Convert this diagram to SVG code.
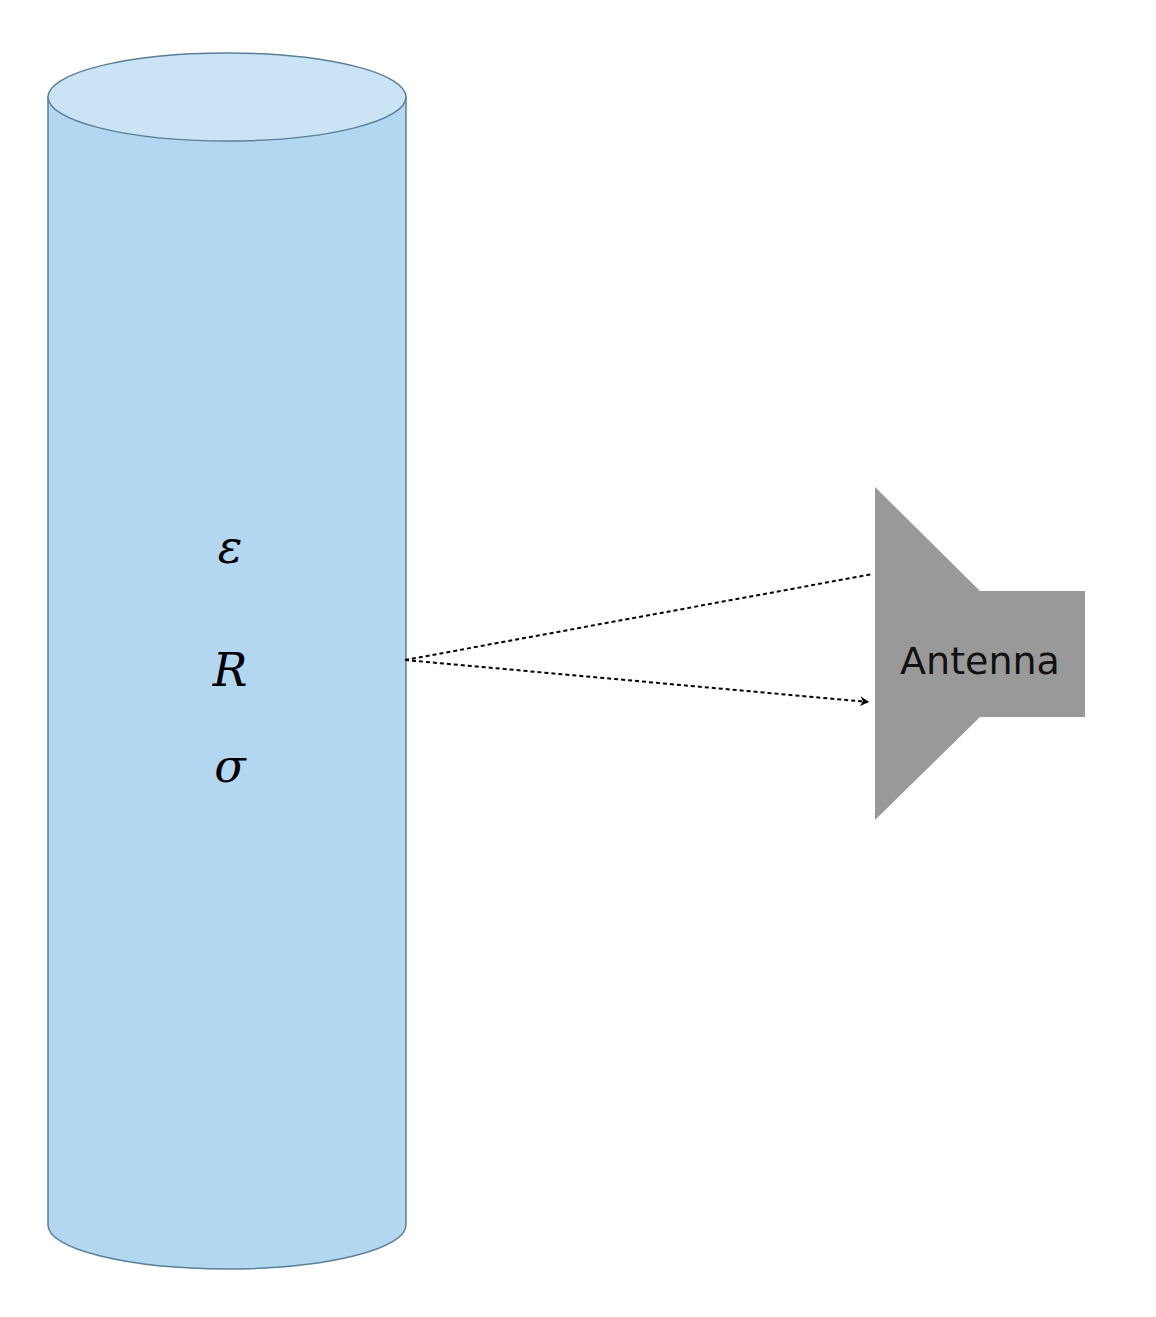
<svg xmlns="http://www.w3.org/2000/svg" width="1156" height="1317" viewBox="0 0 1156 1317">
<style>
.math{font-family:"DejaVu Serif","Liberation Serif",serif;font-style:italic;font-size:46px;fill:#000;text-anchor:middle}
.conn{stroke:#000;stroke-width:2;stroke-dasharray:4 3;fill:none}
</style>
<defs><marker id="ah" markerWidth="10" markerHeight="10" refX="8" refY="5" orient="auto" markerUnits="userSpaceOnUse"><path d="M0,0 L9,5 L0,10 L3,5 Z" fill="#000"/></marker></defs>
<rect width="1156" height="1317" fill="#fff"/>
<g id="cylinder">
<path d="M48,97 L48,1225 A179,44 0 0 0 406,1225 L406,97 Z" fill="#b3d7f0" stroke="#5b7f99" stroke-width="1.5"/>
<ellipse cx="227" cy="97" rx="179" ry="44" fill="#cbe4f5" stroke="#5b7f99" stroke-width="1.5"/>
<text class="math" x="230" y="563">ε</text>
<text class="math" x="230" y="686">R</text>
<text class="math" x="230" y="782">σ</text>
</g>
<g id="antenna">
<polygon points="875,487 980,591 1085,591 1085,717 980,717 875,820" fill="#999"/>
<text x="980" y="674" font-family="'DejaVu Sans',sans-serif" font-size="38" text-anchor="middle" fill="#111">Antenna</text>
</g>
<g id="connectors">
<line class="conn" x1="405" y1="660" x2="873" y2="574"/>
<line class="conn" x1="405" y1="660" x2="868" y2="702" marker-end="url(#ah)"/>
</g>
</svg>
